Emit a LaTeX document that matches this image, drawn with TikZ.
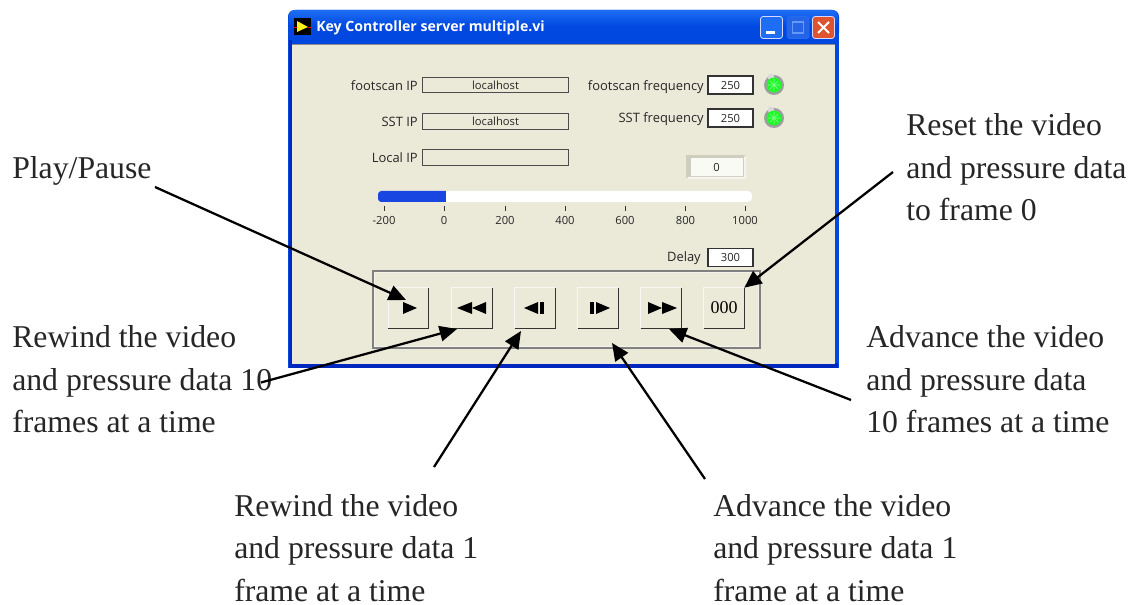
\documentclass[tikz,border=0pt]{standalone}
\usepackage{fontspec}
\setmainfont{Liberation Serif}
\newfontfamily\uifont{Open Sans}
\usetikzlibrary{arrows.meta,calc,shapes.geometric}
\definecolor{panel}{RGB}{235,233,216}
\definecolor{xpblue}{RGB}{0,72,224}
\definecolor{xpdark}{RGB}{0,40,190}
\definecolor{xplight}{RGB}{30,110,245}
\definecolor{closered}{RGB}{222,84,48}
\definecolor{ledgreen}{RGB}{30,250,40}
\definecolor{barblue}{RGB}{25,70,225}
\tikzset{
  x=0.75pt,y=-0.75pt,
  captext/.style={font=\fontsize{23.8pt}{31.9pt}\selectfont,align=left,anchor=north west,inner sep=0pt,text=black!85},
  ui/.style={font=\uifont\fontsize{8.4pt}{10pt}\selectfont,text=black!85,inner sep=0pt},
  uilbl/.style={ui,font=\uifont\fontsize{9.7pt}{11pt}\selectfont,anchor=east},
  ipbox/.style={draw=black!70,line width=0.8pt,fill=panel,minimum width=109.5pt,minimum height=11.6pt,inner sep=0pt,anchor=west},
  numbox/.style={ui,draw=black!80,line width=0.8pt,fill=white,minimum width=33.75pt,minimum height=13.5pt,anchor=center},
  btn/.style={fill=panel,minimum width=30pt,minimum height=30pt,inner sep=0pt,anchor=center},
  callout/.style={line width=1.7pt,black,-{Triangle[length=13pt,width=11.5pt]}},
  tbtn/.style={rounded corners=2pt,draw=white!85!blue,line width=0.6pt,minimum width=16.5pt,minimum height=16.5pt,inner sep=0pt},
  glyph/.style={fill=black,draw=none},
}
\newcommand{\raisedbox}[1]{%
  \draw[white!97!black,line width=0.8pt] (#1.south west)--(#1.north west)--(#1.north east);
  \draw[black!80,line width=1pt] (#1.south west)--(#1.south east)--(#1.north east);
}
\begin{document}
\begin{tikzpicture}
\useasboundingbox (0,0) rectangle (1135,605);
\fill[white] (0,0) rectangle (1135,605);
% window frame
\fill[xpblue,rounded corners=5pt] (288,10) rectangle (839,40);
\fill[xpblue] (288,30) rectangle (839,368);
\shade[top color=xplight,bottom color=xpblue,middle color=xpblue,rounded corners=5pt] (289,10) rectangle (838,43);
\fill[xpdark] (289,363) rectangle (838,368);
\fill[xpdark] (289,40) rectangle (292,368);
\fill[panel] (292,44) rectangle (835,364);
\draw[black!45,line width=0.6pt] (292,44)--(835,44);
% title bar
\node[font=\uifont\bfseries\fontsize{10.6pt}{12pt}\selectfont,text=white,anchor=west,inner sep=0pt] (title) at (316,28) {Key Controller server multiple.vi};
\fill[black] (294,18) rectangle (311,35);
\fill[yellow!90!white] (297,21) -- (308,27) -- (297,32) -- cycle;
\draw[red,line width=0.4pt] (293,27)--(297,27) (308,27)--(312,27);
\node[tbtn,fill=xplight] (minb) at (771.5,27.5) {};
\fill[white] (766,31) rectangle (775,34);
\node[tbtn,fill=xpblue!85!white,draw=xplight] (maxb) at (798,27.5) {};
\draw[xplight!70!white,line width=1pt] (792.5,22) rectangle (803.5,33);
\node[tbtn,fill=closered] (closeb) at (823.5,27.5) {};
\draw[white,line width=1.5pt] (818,22)--(829,33) (829,22)--(818,33);
% IP fields
\node[uilbl] (l1) at (418,86) {footscan IP};
\node[uilbl] (l2) at (418,122) {SST IP};
\node[uilbl] (l3) at (418,158) {Local IP};
\node[ipbox,ui] (ip1) at (422,85) {localhost};
\node[ipbox,ui] (ip2) at (422,121.5) {localhost};
\node[ipbox,ui] (ip3) at (422,157.5) {};
% frequencies
\node[uilbl] (f1) at (704,87) {footscan frequency};
\node[uilbl] (f2) at (704,119) {SST frequency};
\node[numbox] (fb1) at (730.5,85) {250};
\node[numbox] (fb2) at (730.5,118) {250};
\foreach \n/\yy in {led1/85,led2/118}{
  \node[circle,fill=black!38,minimum size=15pt,inner sep=0pt] (\n) at (774,\yy) {};
  \fill[black!15] (771,\yy-8) circle (2.5pt);
  \fill[ledgreen] (774,\yy) circle (5.6pt);
  \draw[white!45!ledgreen,line width=0.4pt] (768,\yy)--(780,\yy) (774,\yy-6)--(774,\yy+6) (770,\yy-4)--(778,\yy+4) (778,\yy-4)--(770,\yy+4);
}
% indicator
\fill[black!12!panel] (686,155) rectangle (746,179);
\fill[white!50!panel] (688,177) -- (744,177) -- (744,157) -- (746,155) -- (746,179) -- (686,179) -- cycle;
\node[ui,fill=white!75!panel,minimum width=39pt,minimum height=13pt,anchor=center] (ind) at (716.5,167) {0};
% slider
\fill[white,rounded corners=3pt] (378,191) rectangle (752,202);
\fill[barblue,rounded corners=2.5pt] (378,191) rectangle (450,202);
\fill[white] (446,191) rectangle (456,202);
\foreach \px/\tl in {384/-200,444/0,505/200,565/400,625/600,685.5/800,745/1000}{
  \draw[black!80,line width=0.5pt] (\px,206)--(\px,211);
  \node[ui] at (\px,220) {\tl};
}
% delay
\node[uilbl] (dl) at (701,258) {Delay};
\node[numbox] (db) at (730.5,257.5) {300};
% group box
\draw[black!50,line width=1.2pt] (373,271) rectangle (760,348);
\draw[white!50!panel,line width=0.6pt] (374.5,272.5) rectangle (758.5,346.5);
% buttons
\node[btn] (bPlay) at (408.5,308) {};
\node[btn] (bRew) at (472,308) {};
\node[btn] (bBack) at (535,308) {};
\node[btn] (bFwd) at (598,308) {};
\node[btn] (bFF) at (661,308) {};
\node[btn,font=\fontsize{13.5pt}{14pt}\selectfont,text=black] (bZero) at (724,308) {000};
\raisedbox{bPlay}\raisedbox{bRew}\raisedbox{bBack}\raisedbox{bFwd}\raisedbox{bFF}\raisedbox{bZero}
\fill[glyph] (403,302)--(417,308)--(403,314)--cycle;
\fill[glyph] (457,308)--(472,302)--(472,314)--cycle;
\fill[glyph] (472,308)--(486,302)--(486,314)--cycle;
\fill[glyph] (524,308)--(538,302)--(538,314)--cycle;
\fill[glyph] (540,302) rectangle (543.5,314);
\fill[glyph] (590,302) rectangle (593.5,314);
\fill[glyph] (596,302)--(610,308)--(596,314)--cycle;
\fill[glyph] (648,302)--(662,308)--(648,314)--cycle;
\fill[glyph] (662,302)--(677,308)--(662,314)--cycle;
% captions
\node[captext] (cPlay) at (12,156.3) {Play/Pause};
\node[captext] (cRew) at (12,325.3) {Rewind the video\\and pressure data 10\\frames at a time};
\node[captext] (cBack) at (234,494) {Rewind the video\\and pressure data 1\\frame at a time};
\node[captext] (cFwd) at (713,494) {Advance the video\\and pressure data 1\\frame at a time};
\node[captext] (cFF) at (866,325.3) {Advance the video\\and pressure data\\10 frames at a time};
\node[captext] (cReset) at (906,113.3) {Reset the video\\and pressure data\\to frame 0};
% connector ends
\coordinate (sPlay) at (155,187);
\coordinate (tPlay) at (406,300);
\coordinate (sRew) at (261,382.5);
\coordinate (tRew) at (457,329);
\coordinate (sBack) at (434,467);
\coordinate (tBack) at (521,331);
\coordinate (sFwd) at (705,479);
\coordinate (tFwd) at (612,343);
\coordinate (sFF) at (851,400);
\coordinate (tFF) at (669,329);
\coordinate (sZero) at (893,172);
\draw[callout] (sPlay)--(tPlay);
\draw[callout] (sRew)--(tRew);
\draw[callout] (sBack)--(tBack);
\draw[callout] (sFwd)--(tFwd);
\draw[callout] (sFF)--(tFF);
\draw[callout] (sZero)--(bZero.north east);
\end{tikzpicture}
\end{document}
